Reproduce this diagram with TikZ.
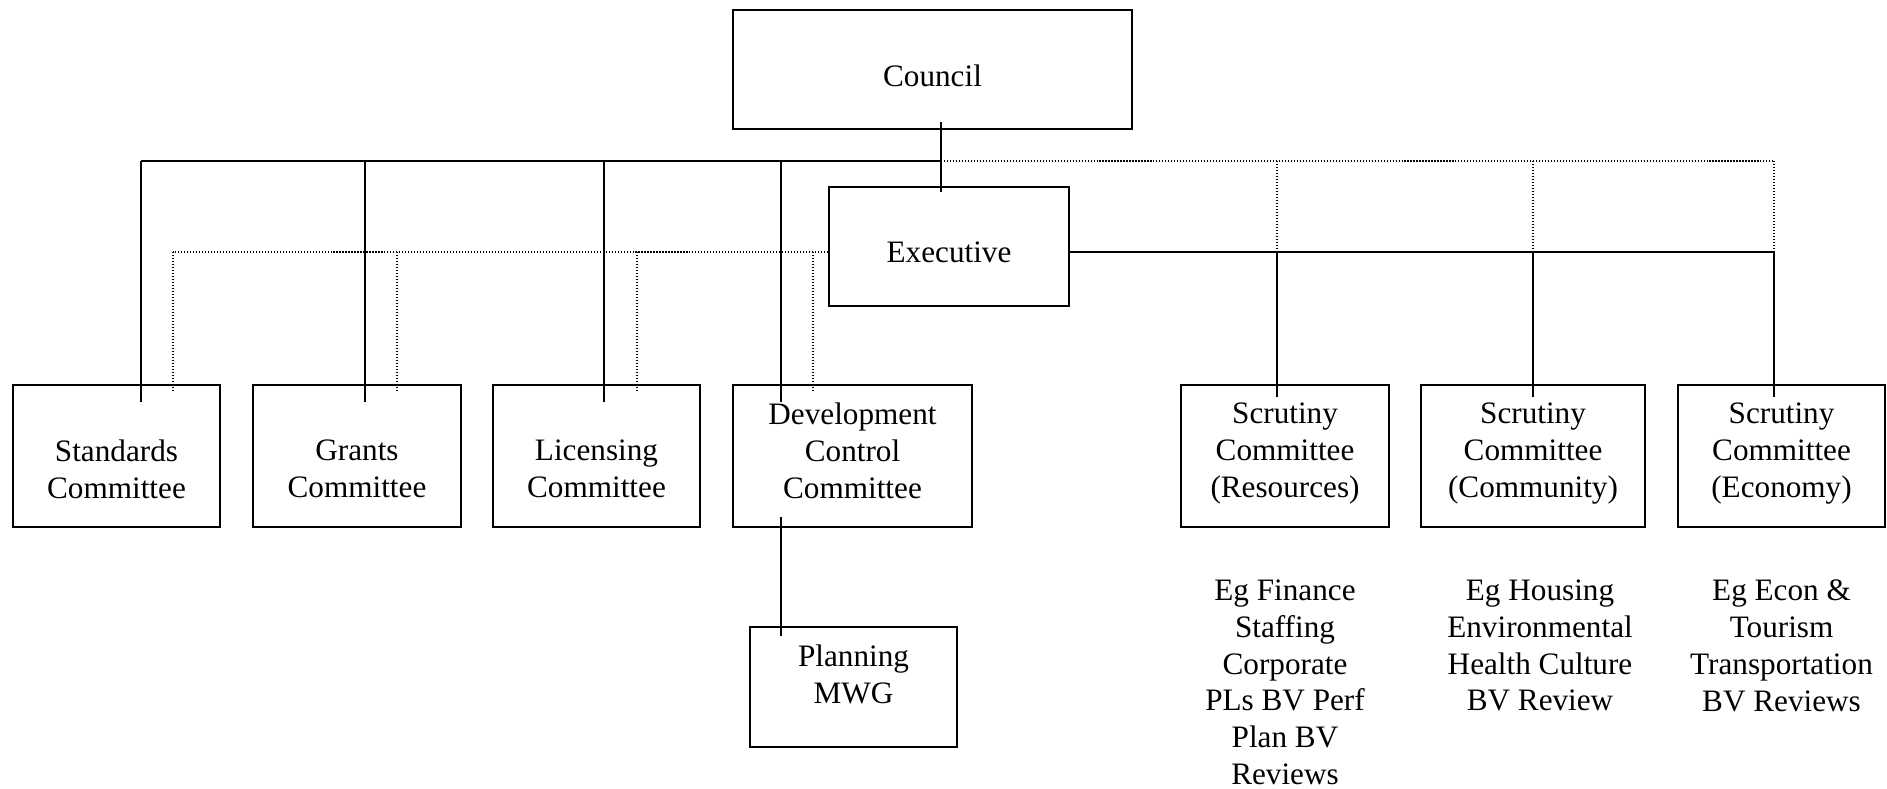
\documentclass[tikz,border=0pt]{standalone}
\usepackage{fontspec}
\setmainfont{Liberation Serif}
\newcommand{\px}{0.3846pt}
\tikzset{
  unit/.style={draw, line width=0.75pt, inner sep=0pt},
  unittext/.style={anchor=north, align=center, inner sep=0pt,
    font=\fontsize{12}{14.2}\selectfont},
  solidln/.style={line width=0.75pt},
  dotln/.style={line width=0.55pt, dash pattern=on 0.45pt off 0.7pt},
}
\newcommand{\firstline}{18}
\newcommand{\secondline}{55}

\begin{document}
\begin{tikzpicture}[x=\px, y=-\px]
\useasboundingbox (0,0) rectangle (1887,789);

% boxes
\node[unit, minimum width=399*\px, minimum height=119*\px] (council) at (932.5,69.5) {};
\node[unit, minimum width=240*\px, minimum height=119*\px] (exec) at (949,246.5) {};
\node[unit, minimum width=207*\px, minimum height=142*\px] (std) at (116.5,456) {};
\node[unit, minimum width=208*\px, minimum height=142*\px] (grants) at (357,456) {};
\node[unit, minimum width=207*\px, minimum height=142*\px] (lic) at (596.5,456) {};
\node[unit, minimum width=239*\px, minimum height=142*\px] (dev) at (852.5,456) {};
\node[unit, minimum width=208*\px, minimum height=142*\px] (scrres) at (1285,456) {};
\node[unit, minimum width=224*\px, minimum height=142*\px] (scrcom) at (1533,456) {};
\node[unit, minimum width=207*\px, minimum height=142*\px] (screco) at (1781.5,456) {};
\node[unit, minimum width=207*\px, minimum height=120*\px] (plan) at (853.5,687) {};

% box texts
\node[unittext] (counciltxt) at ([yshift=-\secondline*\px]council.north) {Council};
\node[unittext] (exectxt) at ([yshift=-\secondline*\px]exec.north) {Executive};
\node[unittext] (stdtxt) at ([yshift=-\secondline*\px]std.north) {Standards\\Committee};
\node[unittext] (grantstxt) at ([yshift=-\secondline*\px]grants.north) {Grants\\Committee};
\node[unittext] (lictxt) at ([yshift=-\secondline*\px]lic.north) {Licensing\\Committee};
\node[unittext] (devtxt) at ([yshift=-\firstline*\px]dev.north) {Development\\Control\\Committee};
\node[unittext] (scrrestxt) at ([yshift=-\firstline*\px]scrres.north) {Scrutiny\\Committee\\(Resources)};
\node[unittext] (scrcomtxt) at ([yshift=-\firstline*\px]scrcom.north) {Scrutiny\\Committee\\(Community)};
\node[unittext] (screcotxt) at ([yshift=-\firstline*\px]screco.north) {Scrutiny\\Committee\\(Economy)};
\node[unittext] (plantxt) at ([yshift=-\firstline*\px]plan.north) {Planning\\MWG};

% remits under the scrutiny committees
\node[unittext] (resnote) at ([yshift=-51*\px]scrres.south) {Eg Finance\\Staffing\\Corporate\\PLs BV Perf\\Plan BV\\Reviews};
\node[unittext] (comnote) at ([xshift=7*\px, yshift=-51*\px]scrcom.south) {Eg Housing\\Environmental\\Health Culture\\BV Review};
\node[unittext] (econote) at ([yshift=-51*\px]screco.south) {Eg Econ \&\\Tourism\\Transportation\\BV Reviews};

% junctions
\coordinate (sd1) at (141,161);
\coordinate (sd2) at (365,161);
\coordinate (sd3) at (604,161);
\coordinate (sd4) at (781,161);
\coordinate (cj) at (941,161);
\coordinate (dd1) at (173,252);
\coordinate (dd2) at (397,252);
\coordinate (dd3) at (637,252);
\coordinate (dd4) at (813,252);
\coordinate (sc1) at (1277,161);
\coordinate (sc2) at (1533,161);
\coordinate (sc3) at (1774,161);
\coordinate (sr1) at (1277,252);
\coordinate (sr2) at (1533,252);
\coordinate (sr3) at (1774,252);

% council lines
\draw[solidln] ([yshift=8*\px]council.south -| cj) -- ([yshift=-6*\px]exec.north -| cj);
\draw[solidln] (sd1) -- (cj);
\draw[dotln] (cj) -- (sc3);
\draw[solidln] (sd1) -- ([yshift=-18*\px]sd1 |- std.north);
\draw[solidln] (sd2) -- ([yshift=-18*\px]sd2 |- grants.north);
\draw[solidln] (sd3) -- ([yshift=-18*\px]sd3 |- lic.north);
\draw[solidln] (sd4) -- ([yshift=-18*\px]sd4 |- dev.north);
\draw[dotln] (sc1) -- (sr1);
\draw[dotln] (sc2) -- (sr2);
\draw[dotln] (sc3) -- (sr3);

% executive lines
\draw[dotln] (exec.west |- dd1) -- (dd1);
\draw[dotln] (dd1) -- ([yshift=-8*\px]dd1 |- std.north);
\draw[dotln] (dd2) -- ([yshift=-8*\px]dd2 |- grants.north);
\draw[dotln] (dd3) -- ([yshift=-8*\px]dd3 |- lic.north);
\draw[dotln] (dd4) -- ([yshift=-8*\px]dd4 |- dev.north);
\draw[solidln] (exec.east |- sr3) -- (sr3);
\draw[solidln] (sr1) -- ([yshift=-13*\px]sr1 |- scrres.north);
\draw[solidln] (sr2) -- ([yshift=-13*\px]sr2 |- scrcom.north);
\draw[solidln] (sr3) -- ([yshift=-13*\px]sr3 |- screco.north);

% planning
\draw[solidln] ([yshift=11*\px]dev.south -| sd4) -- ([yshift=-10*\px]plan.north -| sd4);
\end{tikzpicture}
\end{document}
